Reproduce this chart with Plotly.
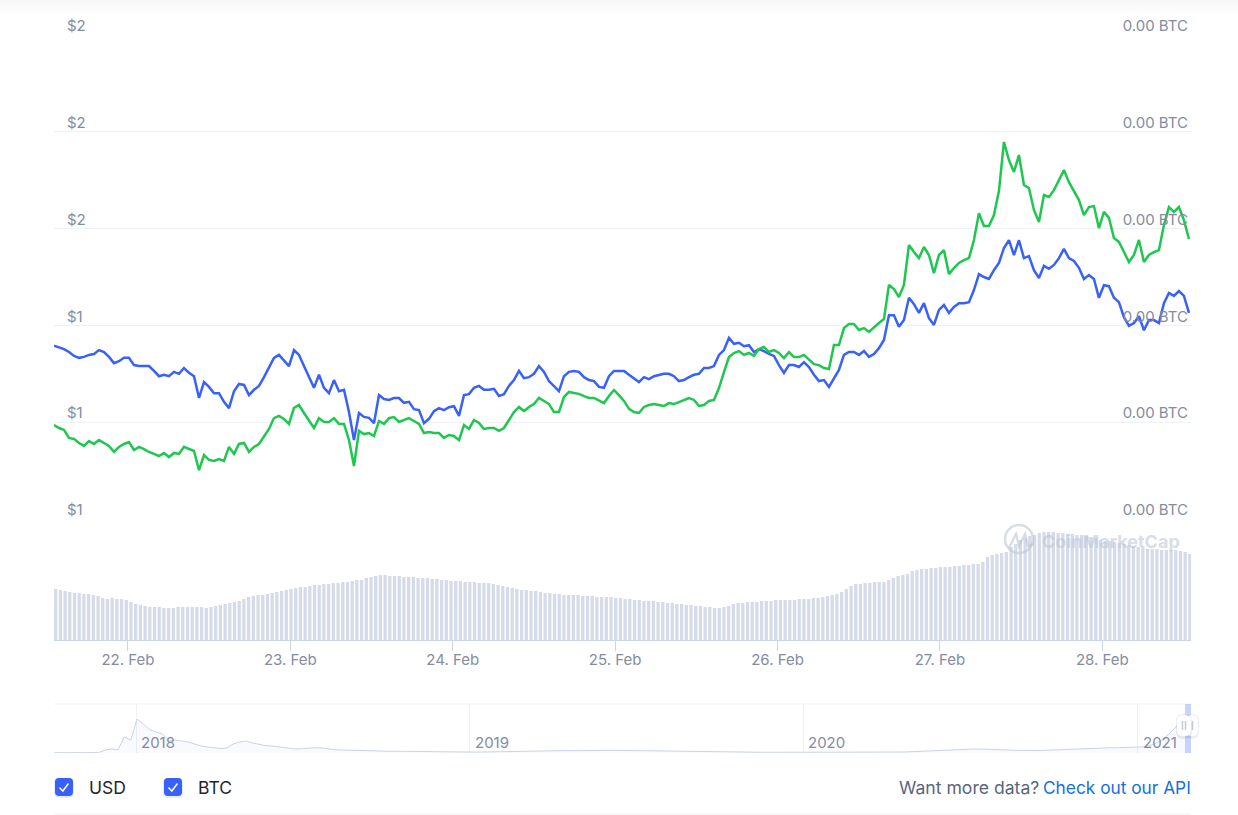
import pandas as pd
import plotly.graph_objects as go

# price in USD, one reading about every 44 minutes
usd_price = [1.358, 1.355, 1.351, 1.345, 1.337, 1.333, 1.335, 1.339, 1.341, 1.349,
             1.345, 1.335, 1.322, 1.326, 1.333, 1.333, 1.318, 1.316, 1.316, 1.316,
             1.306, 1.295, 1.298, 1.295, 1.304, 1.300, 1.312, 1.302, 1.295, 1.250,
             1.283, 1.273, 1.260, 1.260, 1.242, 1.229, 1.264, 1.279, 1.277, 1.256,
             1.267, 1.275, 1.293, 1.314, 1.333, 1.339, 1.328, 1.316, 1.349, 1.339,
             1.316, 1.295, 1.271, 1.298, 1.271, 1.260, 1.287, 1.264, 1.267, 1.221,
             1.163, 1.219, 1.211, 1.209, 1.198, 1.256, 1.248, 1.246, 1.250, 1.250,
             1.240, 1.242, 1.227, 1.225, 1.198, 1.207, 1.223, 1.229, 1.225, 1.231,
             1.233, 1.213, 1.256, 1.258, 1.271, 1.275, 1.267, 1.267, 1.269, 1.254,
             1.258, 1.275, 1.287, 1.306, 1.291, 1.293, 1.300, 1.316, 1.304, 1.285,
             1.275, 1.264, 1.295, 1.304, 1.306, 1.304, 1.293, 1.287, 1.285, 1.273,
             1.271, 1.295, 1.306, 1.306, 1.306, 1.298, 1.291, 1.283, 1.293, 1.289,
             1.295, 1.298, 1.300, 1.300, 1.295, 1.285, 1.287, 1.293, 1.298, 1.300,
             1.312, 1.312, 1.316, 1.339, 1.349, 1.374, 1.362, 1.364, 1.357, 1.359,
             1.345, 1.351, 1.347, 1.341, 1.337, 1.318, 1.302, 1.318, 1.318, 1.314,
             1.324, 1.314, 1.298, 1.285, 1.287, 1.273, 1.291, 1.308, 1.339, 1.345,
             1.345, 1.339, 1.347, 1.335, 1.341, 1.353, 1.370, 1.421, 1.421, 1.397,
             1.411, 1.457, 1.444, 1.426, 1.446, 1.415, 1.401, 1.432, 1.442, 1.426,
             1.438, 1.446, 1.446, 1.448, 1.473, 1.506, 1.500, 1.496, 1.514, 1.529,
             1.560, 1.576, 1.545, 1.576, 1.539, 1.543, 1.514, 1.498, 1.523, 1.517,
             1.525, 1.539, 1.558, 1.539, 1.533, 1.519, 1.496, 1.504, 1.496, 1.457,
             1.483, 1.481, 1.457, 1.448, 1.417, 1.399, 1.405, 1.419, 1.390, 1.411,
             1.411, 1.405, 1.446, 1.467, 1.461, 1.471, 1.461, 1.426]

# same readings in satoshi
btc_price = [2388, 2376, 2368, 2335, 2331, 2314, 2302, 2322, 2310, 2326,
             2314, 2302, 2277, 2298, 2310, 2318, 2285, 2298, 2289, 2277,
             2269, 2260, 2273, 2256, 2273, 2269, 2298, 2289, 2281, 2202,
             2264, 2244, 2240, 2248, 2240, 2298, 2269, 2310, 2314, 2277,
             2298, 2310, 2339, 2372, 2417, 2426, 2413, 2393, 2459, 2471,
             2438, 2409, 2376, 2417, 2401, 2401, 2417, 2393, 2393, 2326,
             2219, 2364, 2351, 2355, 2343, 2405, 2393, 2417, 2421, 2401,
             2409, 2417, 2405, 2393, 2355, 2359, 2355, 2355, 2335, 2347,
             2343, 2326, 2388, 2372, 2409, 2397, 2372, 2376, 2376, 2364,
             2376, 2409, 2442, 2463, 2446, 2463, 2475, 2500, 2488, 2475,
             2442, 2442, 2504, 2525, 2521, 2517, 2508, 2500, 2500, 2488,
             2479, 2508, 2533, 2512, 2488, 2455, 2442, 2438, 2463, 2471,
             2475, 2471, 2467, 2479, 2475, 2483, 2492, 2500, 2492, 2467,
             2471, 2488, 2492, 2541, 2607, 2669, 2686, 2694, 2678, 2686,
             2674, 2702, 2711, 2690, 2698, 2686, 2665, 2690, 2669, 2669,
             2678, 2661, 2640, 2636, 2624, 2620, 2719, 2719, 2789, 2806,
             2806, 2781, 2789, 2773, 2793, 2810, 2826, 2967, 2950, 2917,
             2967, 3132, 3103, 3078, 3124, 3091, 3016, 3091, 3111, 3012,
             3037, 3058, 3070, 3078, 3153, 3264, 3211, 3211, 3256, 3355,
             3558, 3483, 3434, 3504, 3380, 3368, 3277, 3227, 3339, 3331,
             3359, 3401, 3442, 3392, 3355, 3318, 3256, 3289, 3293, 3202,
             3269, 3244, 3161, 3145, 3103, 3062, 3091, 3153, 3062, 3091,
             3103, 3111, 3215, 3289, 3269, 3289, 3235, 3157]

# volume, in millions of USD
volume = [51, 50, 49, 48, 47, 47, 46, 46, 45, 44, 42, 41, 42, 41, 41, 40, 38, 36, 35,
          34, 33, 33, 33, 32, 32, 32, 33, 33, 33, 33, 33, 33, 32, 33, 34, 35, 36, 37, 38,
          39, 41, 43, 44, 45, 45, 46, 47, 48, 49, 50, 51, 52, 53, 53, 54, 55, 55, 56, 56,
          57, 57, 58, 58, 59, 60, 60, 62, 63, 64, 65, 65, 64, 64, 64, 63, 63, 63,
          62, 62, 62, 61, 61, 60, 60, 59, 59, 59, 58, 58, 58, 57, 57,
          57, 56, 55, 54, 53, 52, 51, 50, 50, 49, 49, 48, 47, 47, 46, 46, 45, 45,
          45, 45, 44, 44, 44, 43, 43, 43, 43, 42, 42, 41, 41, 40, 40, 39, 39,
          39, 38, 38, 37, 37, 36, 36, 35, 35, 34, 34, 33, 33, 32, 32, 33, 34, 36, 37,
          37, 38, 38, 38, 39, 39, 39, 40, 40, 40, 40, 40, 41, 41, 41, 42, 42, 43, 44, 45,
          46, 48, 51, 54, 56, 56, 57, 57, 58, 58, 58, 60, 62, 64, 65, 66, 69, 70,
          71, 71, 72, 72, 73, 73, 73, 74, 74, 75, 75, 76, 76, 78, 83, 85, 86, 87, 88, 93,
          96, 100, 102, 104, 105, 107, 108, 108, 108, 107, 107, 106, 106, 105, 105,
          104, 103, 102, 100, 99, 99, 98, 97, 96, 95, 94, 93, 92, 91, 91, 91, 90, 90, 90,
          90, 89, 88, 86]

# weekly price for the navigator strip
history_price = [0.014, 0.014, 0.014, 0.014, 0.014, 0.014, 0.014, 0.019,
                 0.144, 0.192, 0.168, 0.768, 0.624, 1.632, 1.39, 1.104, 1.008, 0.912,
                 0.576, 0.624, 0.576, 0.528, 0.432, 0.336, 0.288, 0.264, 0.216, 0.24,
                 0.432, 0.528, 0.576, 0.48, 0.408, 0.36, 0.336, 0.312, 0.264, 0.216,
                 0.192, 0.216, 0.24, 0.25, 0.24, 0.192, 0.154, 0.144, 0.134, 0.12,
                 0.096, 0.086, 0.082,
                 0.082, 0.086, 0.086, 0.082, 0.082, 0.082, 0.077, 0.072,
                 0.058, 0.038, 0.029, 0.024, 0.024, 0.029, 0.034,
                 0.043, 0.048, 0.053, 0.062, 0.072, 0.077, 0.086, 0.096, 0.106, 0.12,
                 0.125, 0.13, 0.125, 0.12, 0.115,
                 0.11, 0.106, 0.106, 0.11, 0.12, 0.125, 0.13, 0.125, 0.125, 0.12,
                 0.12, 0.115, 0.11, 0.106, 0.096, 0.091, 0.086, 0.082, 0.077, 0.077,
                 0.072, 0.067, 0.062, 0.058, 0.053, 0.048, 0.048, 0.043, 0.038, 0.038,
                 0.034, 0.034, 0.034, 0.034, 0.034, 0.034, 0.034, 0.029, 0.029, 0.029,
                 0.029, 0.029, 0.024, 0.024, 0.024, 0.019, 0.019, 0.019, 0.019, 0.019,
                 0.024, 0.034, 0.048, 0.062, 0.077, 0.096, 0.11, 0.12, 0.13, 0.144,
                 0.158, 0.173, 0.182, 0.192, 0.192, 0.187, 0.178, 0.163, 0.144, 0.13,
                 0.12, 0.115, 0.115, 0.12, 0.13, 0.144, 0.163, 0.182, 0.192, 0.202,
                 0.211, 0.221, 0.23, 0.24, 0.25, 0.254, 0.264, 0.269,
                 0.269, 0.288, 0.336, 0.432, 0.576, 0.816, 1.104, 1.44, 1.488]

usd_ticks = [1.0, 1.2, 1.4, 1.6, 1.8, 2.0]
usd_labels = ["$1", "$1", "$1", "$2", "$2", "$2"]
btc_ticks = [2000, 2400, 2800, 3200, 3600, 4000]
btc_labels = ["0.00 BTC"] * 6
day_ticks = ["2021-02-22", "2021-02-23", "2021-02-24", "2021-02-25", "2021-02-26", "2021-02-27", "2021-02-28"]
day_labels = ["22. Feb", "23. Feb", "24. Feb", "25. Feb", "26. Feb", "27. Feb", "28. Feb"]
year_ticks = ["2018-01-01", "2019-01-01", "2020-01-01", "2021-01-01"]
year_labels = ["2018", "2019", "2020", "2021"]

W = 1238
H = 815
BLUE = "#3861fb"
GREEN = "#1ec74f"
GREY = "#858ca2"
GRID = "#eff2f5"
FONT = "Inter"


def px(x):
    return x / W


def py(y):
    return 1 - y / H


start = pd.Timestamp("2021-02-21 13:04")
end = pd.Timestamp("2021-02-28 13:06")
price_times = pd.date_range(start, periods=len(usd_price), freq="2660s")
volume_times = pd.date_range(start + pd.Timedelta("15min"), end - pd.Timedelta("10min"), periods=len(volume))
history_times = pd.date_range("2017-10-03", periods=len(history_price), freq="7D")

fig = go.Figure()

fig.add_trace(go.Bar(x=volume_times, y=volume, yaxis="y2", marker=dict(color="#d5dbe8", line_width=0)))
fig.add_trace(go.Scatter(x=price_times, y=usd_price, mode="lines", line=dict(color=BLUE, width=2.5)))
fig.add_trace(go.Scatter(x=price_times, y=btc_price, mode="lines", yaxis="y3", line=dict(color=GREEN, width=2.5)))
fig.add_trace(go.Scatter(x=history_times, y=history_price, mode="lines", xaxis="x2", yaxis="y4",
                         line=dict(color="#c9d3e8", width=1), fill="tozeroy", fillcolor="rgba(200,210,235,0.1)"))

shapes = []

# soft shadow along the top of the page
for i in range(15):
    shade = 247 + int(i * 8 / 14)
    shapes.append(dict(type="rect", xref="paper", yref="paper", x0=0, x1=1, y0=py(i + 1), y1=py(i),
                       fillcolor=f"rgb({shade},{shade},{shade})", line_width=0, layer="below"))

# navigator frame and selected band
shapes.append(dict(type="line", xref="paper", yref="paper", x0=px(54), x1=px(1191), y0=py(704), y1=py(704),
                   line=dict(color=GRID, width=1)))
shapes.append(dict(type="rect", xref="paper", yref="paper", x0=px(1185), x1=px(1191), y0=py(753), y1=py(704),
                   fillcolor="rgba(56,97,251,0.27)", line_width=0))
shapes.append(dict(type="line", xref="paper", yref="paper", x0=px(54), x1=px(1191), y0=py(814), y1=py(814),
                   line=dict(color=GRID, width=1)))


def rounded(x0, y0, x1, y1, r):
    return (f"M {px(x0 + r)} {py(y0)} L {px(x1 - r)} {py(y0)} Q {px(x1)} {py(y0)} {px(x1)} {py(y0 + r)} "
            f"L {px(x1)} {py(y1 - r)} Q {px(x1)} {py(y1)} {px(x1 - r)} {py(y1)} "
            f"L {px(x0 + r)} {py(y1)} Q {px(x0)} {py(y1)} {px(x0)} {py(y1 - r)} "
            f"L {px(x0)} {py(y0 + r)} Q {px(x0)} {py(y0)} {px(x0 + r)} {py(y0)} Z")


# navigator handles
for x0, x1 in [(1186, 1198), (1177, 1191)]:
    shapes.append(dict(type="path", xref="paper", yref="paper", path=rounded(x0 - 1, 714, x1 + 1, 739, 7),
                       fillcolor="rgba(120,130,160,0.14)", line_width=0))
    shapes.append(dict(type="path", xref="paper", yref="paper", path=rounded(x0, 715, x1, 736, 6),
                       fillcolor="white", line_width=0))
for x in [1182.5, 1185.5, 1192.5]:
    shapes.append(dict(type="line", xref="paper", yref="paper", x0=px(x), x1=px(x), y0=py(721), y1=py(730),
                       line=dict(color="#c3c9d6", width=1.5)))

# checkboxes
for x0 in [55, 164]:
    shapes.append(dict(type="path", xref="paper", yref="paper", path=rounded(x0 - 1, 778, x0 + 19, 798, 5),
                       fillcolor="rgba(56,97,251,0.12)", line_width=0))
    shapes.append(dict(type="path", xref="paper", yref="paper", path=rounded(x0, 778, x0 + 18, 796, 4),
                       fillcolor=BLUE, line_width=0))
    shapes.append(dict(type="path", xref="paper", yref="paper",
                       path=f"M {px(x0 + 4.5)} {py(787.5)} L {px(x0 + 7.8)} {py(791)} L {px(x0 + 13.5)} {py(783.5)}",
                       line=dict(color="white", width=1.5)))

# watermark logo
logo = "rgba(190,198,214,0.6)"
shapes.append(dict(type="circle", xref="paper", yref="paper", x0=px(1005), x1=px(1033), y0=py(553), y1=py(525),
                   line=dict(color=logo, width=2.5)))
shapes.append(dict(type="path", xref="paper", yref="paper",
                   path=(f"M {px(1009)} {py(548)} L {px(1016)} {py(534)} L {px(1019)} {py(546)} "
                         f"L {px(1025)} {py(534)} L {px(1028)} {py(546)} L {px(1034)} {py(544)}"),
                   line=dict(color=logo, width=2.5)))

annotations = []
for tick, label in zip(year_ticks, year_labels):
    annotations.append(dict(x=tick, y=py(742), xref="x2", yref="paper", text=label, showarrow=False,
                            xanchor="left", yanchor="middle", xshift=3, font=dict(family=FONT, size=15, color=GREY)))
for x, label in [(89, "USD"), (198, "BTC")]:
    annotations.append(dict(x=px(x), y=py(787), xref="paper", yref="paper", text=label, showarrow=False,
                            xanchor="left", yanchor="middle", xshift=-2, font=dict(family=FONT, size=17.5, color="#222531")))
annotations.append(dict(x=px(1191), y=py(787), xref="paper", yref="paper", text="Check out our API", showarrow=False,
                        xanchor="right", yanchor="middle", xshift=2, font=dict(family=FONT, size=17.3, color="#1070e0")))
annotations.append(dict(x=px(1039), y=py(787), xref="paper", yref="paper", text="Want more data?", showarrow=False,
                        xanchor="right", yanchor="middle", xshift=2, font=dict(family=FONT, size=17.6, color="#58667e")))
annotations.append(dict(x=px(1180), y=py(541), xref="paper", yref="paper", text="<b>CoinMarketCap</b>", showarrow=False,
                        xanchor="right", yanchor="middle", xshift=2, font=dict(family=FONT, size=18, color="rgba(190,198,214,0.6)")))

tick_font = dict(family=FONT, size=15, color=GREY)

fig.update_layout(
    width=W,
    height=H,
    autosize=False,
    margin=dict(l=0, r=0, t=0, b=0),
    paper_bgcolor="white",
    plot_bgcolor="rgba(0,0,0,0)",
    showlegend=False,
    bargap=0.3,
    shapes=shapes,
    annotations=annotations,
    xaxis=dict(domain=[px(54), px(1191)], range=[start, end], anchor="y2", tickvals=day_ticks, ticktext=day_labels,
               ticks="outside", ticklen=10, tickcolor="#ccd6eb", showgrid=False, zeroline=False, showline=True,
               linecolor="#ccd6eb", linewidth=1, tickfont=tick_font, automargin=False, ticklabelstandoff=-4),
    yaxis=dict(domain=[py(519), py(35)], range=[1, 2], tickvals=usd_ticks, ticktext=usd_labels, gridcolor=GRID,
               zeroline=False, ticklabelposition="inside", ticklabelstandoff=10, ticklabelshift=-9,
               ticklabeloverflow="allow", tickfont=tick_font, automargin=False),
    yaxis2=dict(domain=[py(640), py(519)], range=[0, 121], showgrid=False, zeroline=False, showticklabels=False,
                automargin=False),
    yaxis3=dict(domain=[py(519), py(35)], range=[2000, 4000], overlaying="y", side="right", tickvals=btc_ticks,
                ticktext=btc_labels, showgrid=False, zeroline=False, ticklabelposition="inside", ticklabelshift=-9,
                ticklabeloverflow="allow", tickfont=tick_font, automargin=False),
    xaxis2=dict(domain=[px(54), px(1191)], range=["2017-10-03", "2021-02-28 13:00"], anchor="y4", tickvals=year_ticks,
                showticklabels=False, gridcolor="#eceff4", zeroline=False, ticks="", automargin=False),
    yaxis4=dict(domain=[py(753), py(704)], range=[0, 2.352], showgrid=False, zeroline=False, showticklabels=False,
                automargin=False),
)

fig.write_html("out.html", config=dict(displayModeBar=False, responsive=False),
               post_script="document.body.style.margin='0';document.body.style.overflow='hidden';")
